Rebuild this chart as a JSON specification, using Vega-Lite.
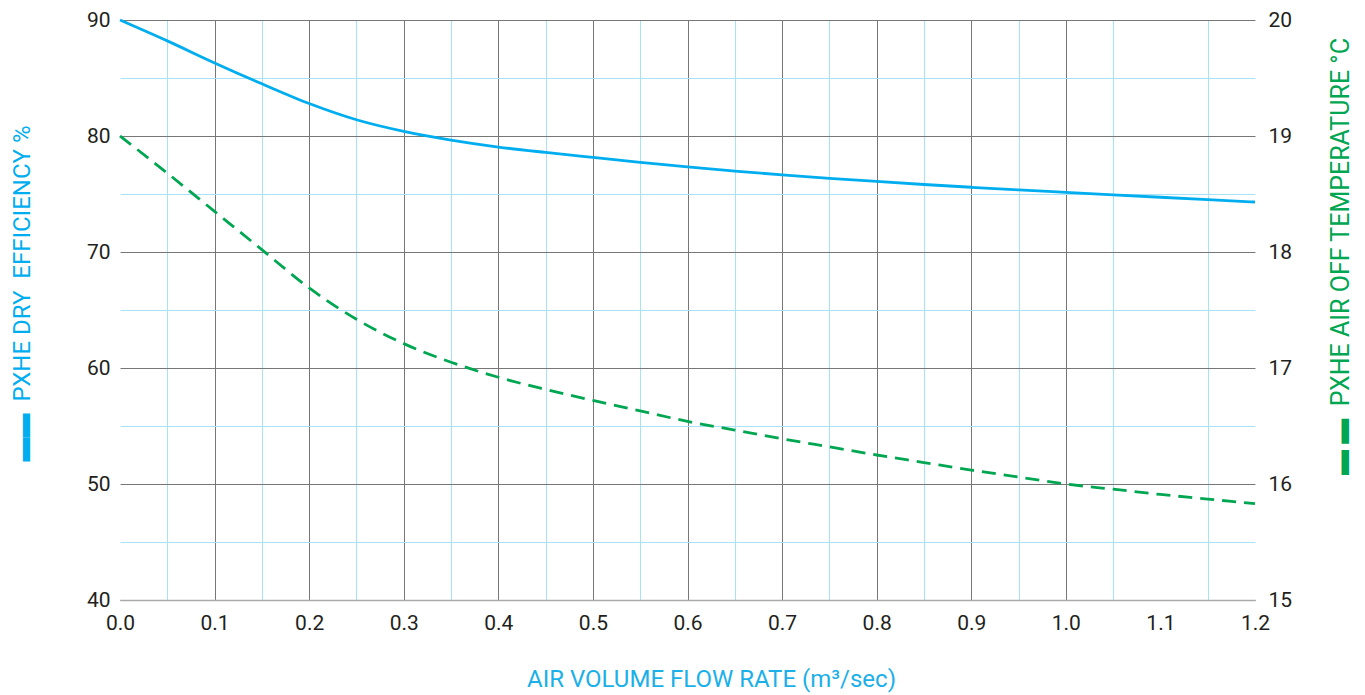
{
  "$schema": "https://vega.github.io/schema/vega-lite/v6.json",
  "autosize": {"type": "none"},
  "padding": {"left": 120, "top": 20, "right": 110, "bottom": 95},
  "width": 1135,
  "height": 580,
  "background": "white",
  "config": {
    "view": {"stroke": null},
    "font": "Roboto",
    "axis": {
      "labelFont": "Roboto",
      "labelFontSize": 21,
      "labelColor": "#231f20",
      "titleFont": "Roboto",
      "titleFontSize": 24,
      "titleFontWeight": "normal",
      "ticks": false
    }
  },
  "data": {
    "values": [
      {"flow": 0.0, "eff": 90.0, "temp": 19.0},
      {"flow": 0.05, "eff": 88.2, "temp": 18.68},
      {"flow": 0.1, "eff": 86.3, "temp": 18.35},
      {"flow": 0.15, "eff": 84.5, "temp": 18.02},
      {"flow": 0.2, "eff": 82.8, "temp": 17.69},
      {"flow": 0.25, "eff": 81.4, "temp": 17.42},
      {"flow": 0.3, "eff": 80.4, "temp": 17.21},
      {"flow": 0.35, "eff": 79.65, "temp": 17.05},
      {"flow": 0.4, "eff": 79.05, "temp": 16.92},
      {"flow": 0.45, "eff": 78.58, "temp": 16.815},
      {"flow": 0.5, "eff": 78.15, "temp": 16.72},
      {"flow": 0.55, "eff": 77.73, "temp": 16.63},
      {"flow": 0.6, "eff": 77.33, "temp": 16.54},
      {"flow": 0.65, "eff": 76.98, "temp": 16.465},
      {"flow": 0.7, "eff": 76.65, "temp": 16.39},
      {"flow": 0.75, "eff": 76.35, "temp": 16.32},
      {"flow": 0.8, "eff": 76.08, "temp": 16.25},
      {"flow": 0.85, "eff": 75.82, "temp": 16.185},
      {"flow": 0.9, "eff": 75.58, "temp": 16.12},
      {"flow": 0.95, "eff": 75.35, "temp": 16.06},
      {"flow": 1.0, "eff": 75.14, "temp": 16.0},
      {"flow": 1.05, "eff": 74.93, "temp": 15.955},
      {"flow": 1.1, "eff": 74.72, "temp": 15.91},
      {"flow": 1.15, "eff": 74.51, "temp": 15.87},
      {"flow": 1.2, "eff": 74.31, "temp": 15.83}
    ]
  },
  "encoding": {
    "x": {
      "field": "flow",
      "type": "quantitative",
      "scale": {"domain": [0, 1.2], "nice": false, "zero": false},
      "axis": {
        "title": "AIR VOLUME FLOW RATE (m³/sec)",
        "titleColor": "#1cb0e8",
        "titleX": 591,
        "titlePadding": 34,
        "values": [0, 0.05, 0.1, 0.15, 0.2, 0.25, 0.3, 0.35, 0.4, 0.45, 0.5, 0.55, 0.6, 0.65, 0.7, 0.75, 0.8, 0.85, 0.9, 0.95, 1.0, 1.05, 1.1, 1.15, 1.2],
        "labelExpr": "round(datum.value*20) % 2 == 0 ? format(datum.value, '.1f') : ''",
        "labelPadding": 12,
        "labelFlush": false,
        "labelOverlap": false,
        "domain": true,
        "domainColor": "#aaaaaa",
        "domainWidth": 1.5,
        "grid": true,
        "gridWidth": 1,
        "gridColor": {"condition": {"test": "round(datum.value*20) % 2 == 1", "value": "#a8e2f6"}, "value": "#777777"},
        "gridOpacity": {"condition": {"test": "datum.value < 0.01 || (datum.value > 1.07 && datum.value < 1.13) || datum.value > 1.17", "value": 0}, "value": 1}
      }
    }
  },
  "layer": [
    {
      "mark": {"type": "line", "color": "#00aeef", "strokeWidth": 2.8, "interpolate": "monotone"},
      "encoding": {
        "y": {
          "field": "eff",
          "type": "quantitative",
          "scale": {"domain": [40, 90], "nice": false, "zero": false},
          "axis": {
            "title": "▬▬\u00a0\u00a0PXHE DRY\u00a0\u00a0EFFICIENCY %",
            "titleColor": "#00aeef",
            "titleY": 273,
            "titlePadding": 52,
            "values": [40, 45, 50, 55, 60, 65, 70, 75, 80, 85, 90],
            "labelExpr": "datum.value % 10 == 0 ? datum.label : ''",
            "labelPadding": 10,
            "domain": false,
            "grid": true,
            "gridWidth": 1,
            "gridColor": {"condition": {"test": "datum.value % 10 == 5", "value": "#a8e2f6"}, "value": "#777777"}
          }
        }
      }
    },
    {
      "mark": {"type": "line", "color": "#00a651", "strokeWidth": 2.8, "strokeDash": [14, 8], "interpolate": "monotone"},
      "encoding": {
        "y": {
          "field": "temp",
          "type": "quantitative",
          "scale": {"domain": [15, 20], "nice": false, "zero": false},
          "axis": {
            "orient": "right",
            "title": "▬\u00a0▬\u00a0\u00a0PXHE AIR OFF TEMPERATURE °C",
            "titleColor": "#00a651",
            "titleFontSize": 25,
            "titleAngle": 270,
            "titleY": 236,
            "titlePadding": 62,
            "values": [15, 16, 17, 18, 19, 20],
            "labelPadding": 13,
            "domain": false,
            "grid": false
          }
        }
      }
    }
  ],
  "resolve": {"scale": {"y": "independent"}}
}
